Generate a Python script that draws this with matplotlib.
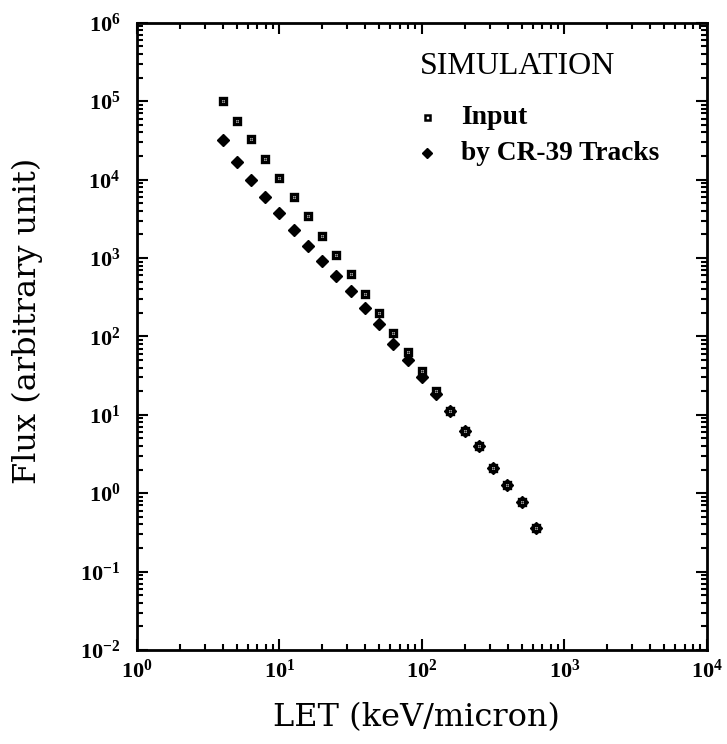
import matplotlib
matplotlib.use("Agg")
import matplotlib.pyplot as plt
import numpy as np
from matplotlib.ticker import FuncFormatter, LogLocator, NullFormatter

plt.rcParams["font.family"] = ["Liberation Serif", "DejaVu Serif"]
plt.rcParams["mathtext.fontset"] = "custom"
plt.rcParams["mathtext.rm"] = "Liberation Serif"
plt.rcParams["mathtext.bf"] = "Liberation Serif:bold"

# LET bins (keV/micron), 10 per decade from 4 to 630
let = [4.0, 5.0, 6.3, 7.9, 10.0, 12.6, 15.8, 20.0, 25.1, 31.6, 39.8, 50.1,
       63.1, 79.4, 100.0, 125.9, 158.5, 199.5, 251.2, 316.2, 398.1, 501.2, 631.0]

# simulated input flux
flux_input = [1.0e5, 5.6e4, 3.3e4, 1.85e4, 1.04e4, 5970, 3380, 1920, 1090, 624,
              350, 200, 110, 62.5, 35.8, 19.9, 11.1, 6.2, 3.97, 2.11, 1.26,
              0.77, 0.36]

# flux recovered from CR-39 tracks
flux_cr39 = [3.2e4, 1.65e4, 9900, 5900, 3730, 2240, 1440, 920, 580, 374,
             227, 142, 81, 50, 30, 18.5, 11.1, 6.2, 3.97, 2.11, 1.26,
             0.77, 0.36]

fig = plt.figure(figsize=(7.27, 7.44), dpi=100)
ax = fig.add_axes([0.1884, 0.1263, 0.7841, 0.8432])

ax.plot(let, flux_cr39, "D", color="black", ms=6.2, ls="none")
ax.plot(let, flux_input, "s", mfc="white", mec="black", mew=2.4, ms=4.8, ls="none")
ax.plot(let, flux_input, ".", color="black", ms=1.2, ls="none")

ax.set_xscale("log")
ax.set_yscale("log")
ax.set_xlim(1, 1e4)
ax.set_ylim(1e-2, 1e6)

ax.xaxis.set_major_locator(LogLocator(base=10, numticks=10))
ax.yaxis.set_major_locator(LogLocator(base=10, numticks=12))
ax.xaxis.set_minor_locator(LogLocator(base=10, subs=np.arange(2, 10), numticks=12))
ax.yaxis.set_minor_locator(LogLocator(base=10, subs=np.arange(2, 10), numticks=12))
ax.xaxis.set_minor_formatter(NullFormatter())
ax.yaxis.set_minor_formatter(NullFormatter())
fmt = FuncFormatter(lambda v, p: r"$\mathbf{10^{%d}}$" % round(np.log10(v)))
ax.xaxis.set_major_formatter(fmt)
ax.yaxis.set_major_formatter(fmt)

ax.tick_params(which="both", direction="in", top=True, right=True, width=1.5)
ax.tick_params(which="major", length=8, labelsize=16)
ax.tick_params(axis="y", which="major", pad=12)
ax.tick_params(axis="x", which="major", pad=7)
ax.tick_params(which="minor", length=4)
for s in ax.spines.values():
    s.set_linewidth(2)

ax.set_xlabel("LET (keV/micron)", fontsize=23, family="DejaVu Serif")
ax.set_ylabel("Flux (arbitrary unit)", fontsize=23, family="DejaVu Serif")
ax.xaxis.set_label_coords(0.49, -0.108)
ax.yaxis.set_label_coords(-0.193, 0.525)
ax.xaxis.label.set_va("center")
ax.yaxis.label.set_va("center")

# legend drawn as free text, as in the original
ax.text(0.497, 0.930, "SIMULATION", transform=ax.transAxes, fontsize=23,
        va="center", ha="left")
ax.plot([0.508], [0.850], "s", mfc="white", mec="black", mew=1.8, ms=3.6,
        transform=ax.transAxes)
ax.plot([0.508], [0.793], "D", color="black", ms=5.5, transform=ax.transAxes)
ax.text(0.569, 0.849, "Input", transform=ax.transAxes, fontsize=20,
        fontweight="bold", va="center", ha="left")
ax.text(0.569, 0.791, "by CR-39 Tracks", transform=ax.transAxes, fontsize=19.7,
        fontweight="bold", va="center", ha="left")

fig.savefig("out.png", dpi=100)
